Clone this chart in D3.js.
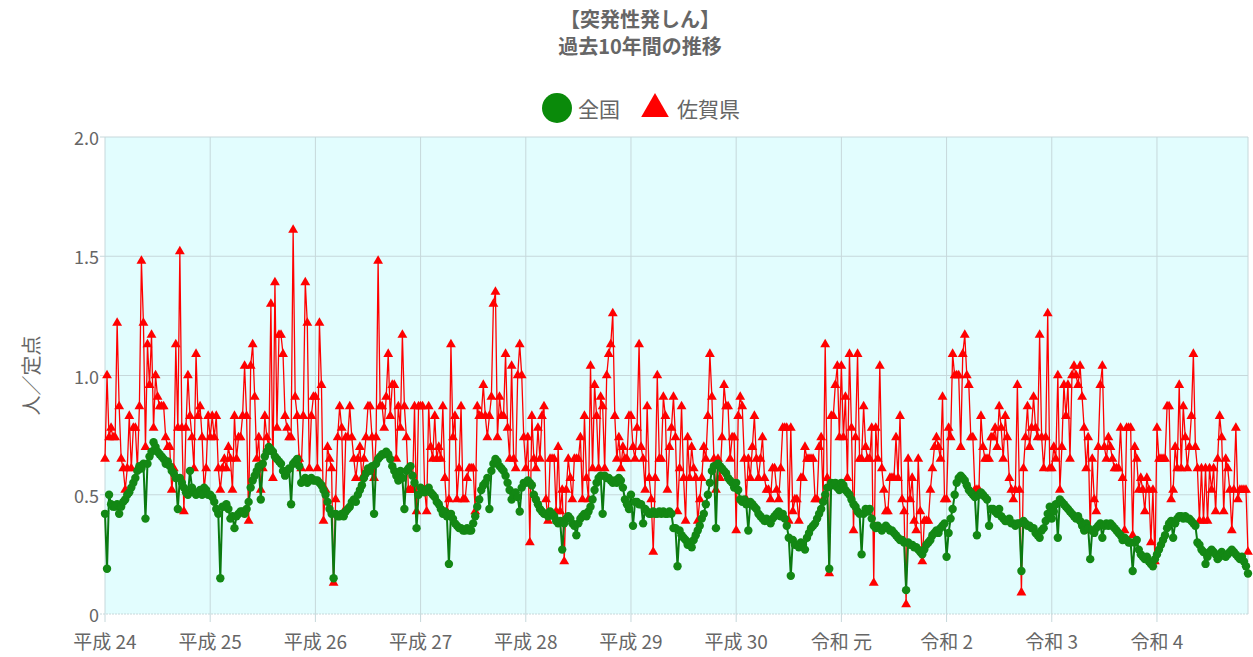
<!DOCTYPE html>
<html>
<head>
<meta charset="utf-8">
<script src="https://cdn.jsdelivr.net/npm/d3@7"></script>
<style>
  body { margin: 0; background: #fff; }
  svg { display: block; font-family: "Noto Sans CJK JP", "Noto Sans", sans-serif; }
</style>
</head>
<body>
<svg id="chart"></svg>
<script>
var width = 1253, height = 657;

// tick labels (first week of each year)
var yearLabels = ["平成 24", "平成 25", "平成 26", "平成 27", "平成 28", "平成 29", "平成 30", "令和 元", "令和 2", "令和 3", "令和 4"];
var yTicks = [0, 0.5, 1.0, 1.5, 2.0];

// 全国 (weekly, per year)
var zenkokuH24 = [0.42,0.19,0.50,0.46,0.45,0.45,0.46,0.42,0.45,0.47,0.48,0.50,0.51,0.53,0.55,0.57,0.60,0.62,0.61,0.63,0.40,0.63,0.66,0.68,0.72,0.70,0.68,0.67,0.66,0.65,0.63,0.64,0.62,0.60,0.59,0.57,0.44,0.57,0.55,0.53,0.51,0.50,0.60,0.53,0.51,0.50,0.51,0.52,0.50,0.53,0.52,0.50];
var zenkokuH25 = [0.50,0.49,0.47,0.44,0.42,0.15,0.45,0.45,0.46,0.44,0.40,0.41,0.36,0.41,0.42,0.43,0.43,0.42,0.44,0.47,0.53,0.56,0.58,0.60,0.62,0.48,0.63,0.66,0.68,0.70,0.69,0.68,0.66,0.65,0.64,0.63,0.60,0.58,0.60,0.61,0.46,0.63,0.64,0.65,0.62,0.55,0.56,0.57,0.55,0.56,0.57,0.56];
var zenkokuH26 = [0.56,0.56,0.55,0.54,0.52,0.50,0.47,0.44,0.42,0.15,0.42,0.41,0.41,0.42,0.41,0.43,0.44,0.45,0.47,0.48,0.47,0.50,0.52,0.54,0.57,0.59,0.61,0.60,0.62,0.42,0.63,0.65,0.66,0.67,0.67,0.68,0.67,0.65,0.62,0.60,0.58,0.56,0.60,0.57,0.44,0.60,0.61,0.62,0.58,0.55,0.36,0.50];
var zenkokuH27 = [0.53,0.52,0.51,0.52,0.53,0.51,0.50,0.49,0.47,0.46,0.44,0.42,0.43,0.41,0.21,0.42,0.40,0.38,0.37,0.36,0.36,0.35,0.35,0.36,0.35,0.35,0.38,0.41,0.45,0.48,0.52,0.54,0.55,0.57,0.44,0.60,0.63,0.65,0.64,0.62,0.61,0.60,0.58,0.55,0.52,0.48,0.50,0.51,0.49,0.43,0.53,0.55];
var zenkokuH28 = [0.55,0.56,0.55,0.54,0.50,0.48,0.46,0.44,0.43,0.42,0.42,0.41,0.43,0.42,0.41,0.39,0.38,0.39,0.27,0.38,0.40,0.41,0.40,0.38,0.37,0.33,0.38,0.40,0.41,0.42,0.41,0.43,0.45,0.48,0.52,0.55,0.57,0.58,0.42,0.58,0.57,0.57,0.56,0.55,0.56,0.55,0.57,0.56,0.53,0.48,0.46,0.44];
var zenkokuH29 = [0.50,0.37,0.47,0.47,0.46,0.46,0.38,0.44,0.43,0.42,0.42,0.43,0.42,0.42,0.43,0.42,0.43,0.42,0.42,0.43,0.42,0.36,0.36,0.20,0.35,0.33,0.32,0.31,0.29,0.30,0.28,0.31,0.33,0.35,0.37,0.40,0.42,0.46,0.50,0.55,0.60,0.62,0.36,0.63,0.62,0.61,0.60,0.59,0.57,0.56,0.55,0.53];
var zenkokuH30 = [0.55,0.52,0.48,0.47,0.48,0.46,0.35,0.47,0.46,0.45,0.44,0.42,0.41,0.40,0.39,0.40,0.39,0.38,0.40,0.41,0.42,0.43,0.41,0.42,0.40,0.37,0.32,0.16,0.31,0.29,0.29,0.28,0.30,0.29,0.27,0.32,0.34,0.36,0.37,0.38,0.40,0.42,0.44,0.47,0.50,0.53,0.19,0.55,0.54,0.55,0.53,0.52];
var zenkokuR1 = [0.55,0.54,0.52,0.51,0.50,0.48,0.46,0.45,0.43,0.42,0.25,0.42,0.44,0.43,0.44,0.40,0.37,0.36,0.37,0.36,0.35,0.36,0.37,0.36,0.35,0.35,0.34,0.33,0.32,0.31,0.31,0.30,0.10,0.30,0.29,0.29,0.28,0.28,0.27,0.26,0.25,0.27,0.29,0.30,0.31,0.33,0.34,0.35,0.34,0.36,0.37,0.38];
var zenkokuR2 = [0.24,0.34,0.40,0.44,0.50,0.55,0.57,0.58,0.57,0.56,0.54,0.52,0.51,0.50,0.49,0.33,0.50,0.51,0.50,0.49,0.48,0.37,0.44,0.44,0.43,0.42,0.44,0.41,0.40,0.39,0.39,0.40,0.38,0.38,0.37,0.38,0.38,0.18,0.39,0.38,0.37,0.37,0.36,0.36,0.34,0.33,0.32,0.35,0.36,0.39,0.42,0.45];
var zenkokuR3 = [0.40,0.43,0.46,0.32,0.48,0.47,0.46,0.45,0.44,0.43,0.42,0.41,0.40,0.41,0.39,0.37,0.35,0.38,0.36,0.23,0.35,0.34,0.36,0.37,0.38,0.32,0.37,0.38,0.37,0.38,0.37,0.36,0.35,0.34,0.33,0.31,0.32,0.31,0.30,0.30,0.18,0.30,0.31,0.27,0.25,0.24,0.23,0.24,0.22,0.21,0.20,0.23];
var zenkokuR4 = [0.25,0.27,0.29,0.31,0.33,0.36,0.38,0.39,0.32,0.38,0.40,0.41,0.41,0.40,0.41,0.40,0.40,0.39,0.38,0.37,0.30,0.29,0.27,0.26,0.21,0.24,0.26,0.27,0.26,0.25,0.23,0.24,0.26,0.25,0.24,0.25,0.26,0.27,0.26,0.25,0.24,0.23,0.24,0.22,0.20,0.17];

// 佐賀県 (weekly, per year)
var sagaH24 = [0.65,1.00,0.74,0.78,0.74,0.74,1.22,0.87,0.65,0.61,0.52,0.61,0.83,0.61,0.78,0.78,0.61,0.87,1.48,1.22,0.70,1.13,0.96,1.17,0.78,1.00,0.91,0.87,0.87,0.87,0.74,0.70,0.70,0.52,0.61,1.13,0.78,1.52,0.78,0.43,0.78,1.00,0.83,0.74,0.61,1.09,0.83,0.87,0.74,0.52,0.61,0.83];
var sagaH25 = [0.74,0.83,0.74,0.83,0.61,0.52,0.61,0.65,0.61,0.70,0.65,0.52,0.83,0.65,0.74,0.74,0.83,1.04,0.83,0.39,1.04,1.13,0.91,0.65,0.74,0.52,0.61,0.83,0.74,0.70,1.30,0.57,1.39,0.78,1.17,1.17,1.09,0.83,0.78,0.74,0.74,1.61,0.91,0.83,0.65,0.61,0.83,1.39,1.22,0.61,0.83,0.91];
var sagaH26 = [0.91,0.61,1.22,0.96,0.39,0.52,0.70,0.65,0.61,0.13,0.48,0.74,0.87,0.78,0.43,0.74,0.74,0.87,0.74,0.65,0.57,0.65,0.70,0.57,0.65,0.74,0.87,0.87,0.74,0.57,0.74,1.48,0.87,0.87,0.78,0.91,1.09,0.83,0.96,0.96,0.65,0.87,0.78,1.17,0.87,0.74,0.52,0.52,0.52,0.87,0.43,0.87];
var sagaH27 = [0.87,0.87,0.52,0.43,0.87,0.70,0.65,0.83,0.65,0.70,0.65,0.87,0.57,0.43,0.48,1.13,0.74,0.83,0.48,0.61,0.87,0.48,0.48,0.57,0.61,0.61,0.61,0.43,0.87,0.83,0.83,0.96,0.83,0.74,0.83,0.91,1.30,1.35,0.74,0.91,0.83,0.83,1.09,0.78,0.65,1.04,0.65,0.61,1.00,1.13,1.00,0.74];
var sagaH28 = [0.61,0.74,0.30,0.83,0.65,0.61,0.78,0.65,0.83,0.87,0.48,0.39,0.65,0.65,0.65,0.43,0.70,0.43,0.52,0.22,0.52,0.65,0.57,0.48,0.65,0.65,0.65,0.74,0.48,0.83,0.57,0.48,1.04,0.61,0.96,0.83,0.61,0.91,0.87,0.61,1.00,1.09,1.13,1.26,0.83,0.65,0.74,0.61,0.70,0.65,0.65,0.83];
var sagaH29 = [0.83,0.70,0.65,0.78,1.13,0.70,0.65,0.52,0.87,0.57,0.48,0.26,0.57,1.00,0.65,0.65,0.91,0.83,0.52,0.70,0.78,0.91,0.74,0.43,0.61,0.87,0.57,0.39,0.74,0.57,0.70,0.61,0.57,0.39,0.48,0.57,0.70,0.65,0.83,1.09,0.91,0.65,0.52,0.65,0.57,0.74,0.96,0.87,0.87,0.65,0.74,0.74];
var sagaH30 = [0.35,0.83,0.91,0.87,0.65,0.48,0.65,0.57,0.70,0.83,0.65,0.57,0.65,0.74,0.57,0.52,0.52,0.48,0.61,0.61,0.52,0.48,0.61,0.78,0.78,0.78,0.39,0.78,0.43,0.48,0.48,0.39,0.57,0.57,0.70,0.65,0.65,0.65,0.65,0.48,0.48,0.70,0.74,0.48,1.13,0.57,0.17,0.83,0.83,0.96,1.04,0.74];
var sagaR1 = [1.04,0.74,0.91,0.57,1.09,0.78,0.35,0.74,1.09,0.65,0.65,0.87,0.70,0.65,0.65,0.78,0.13,0.78,0.65,1.04,0.61,0.52,0.43,0.43,0.57,0.57,0.57,0.74,0.57,0.83,0.48,0.43,0.04,0.65,0.48,0.57,0.39,0.35,0.65,0.43,0.22,0.39,0.39,0.39,0.52,0.61,0.70,0.74,0.70,0.65,0.91,0.48];
var sagaR2 = [0.48,0.78,0.74,1.09,1.00,1.00,1.00,0.70,1.09,1.17,1.00,0.96,0.74,0.74,0.52,0.52,0.52,0.83,0.70,0.65,0.65,0.65,0.74,0.74,0.78,0.70,0.87,0.78,0.65,0.83,0.74,0.57,0.52,0.48,0.52,0.96,0.52,0.09,0.61,0.74,0.87,0.70,0.78,0.91,0.78,0.74,1.17,0.74,0.61,0.74,1.26,0.61];
var sagaR3 = [0.61,0.70,0.65,1.00,0.52,0.70,0.96,0.83,0.96,0.65,1.00,1.04,1.00,0.96,1.04,0.91,0.78,0.61,0.74,0.35,0.65,0.48,0.43,0.70,0.96,1.04,0.70,0.65,0.74,0.70,0.65,0.61,0.61,0.61,0.78,0.57,0.35,0.78,0.78,0.78,0.33,0.70,0.65,0.52,0.57,0.52,0.43,0.57,0.52,0.30,0.52,0.22];
var sagaR4 = [0.78,0.65,0.65,0.65,0.65,0.87,0.87,0.48,0.52,0.70,0.61,0.96,0.61,0.87,0.74,0.61,0.70,0.83,1.09,0.70,0.61,0.39,0.61,0.39,0.61,0.39,0.61,0.52,0.61,0.43,0.65,0.83,0.74,0.43,0.65,0.61,0.52,0.35,0.52,0.78,0.48,0.52,0.52,0.52,0.52,0.26];

var zenkokuYears = [zenkokuH24, zenkokuH25, zenkokuH26, zenkokuH27, zenkokuH28, zenkokuH29, zenkokuH30, zenkokuR1, zenkokuR2, zenkokuR3, zenkokuR4];
var sagaYears = [sagaH24, sagaH25, sagaH26, sagaH27, sagaH28, sagaH29, sagaH30, sagaR1, sagaR2, sagaR3, sagaR4];

// flatten into one weekly series, remember where each year starts
var zenkoku = [], saga = [], yearStart = [];
zenkokuYears.forEach(function(arr, k) {
    yearStart.push(zenkoku.length);
    zenkoku = zenkoku.concat(arr);
    saga = saga.concat(sagaYears[k]);
});

var plot = {left: 105, right: 1248, top: 137, bottom: 614};

var x = d3.scaleLinear().domain([0, zenkoku.length - 1]).range([plot.left, plot.right]);
var y = d3.scaleLinear().domain([0, 2]).range([plot.bottom, plot.top]);

var svg = d3.select("#chart").attr("width", width).attr("height", height);

svg.append("rect").attr("width", width).attr("height", height).attr("fill", "#fff");

// plot background
svg.append("rect")
    .attr("x", plot.left).attr("y", plot.top)
    .attr("width", plot.right - plot.left).attr("height", plot.bottom - plot.top)
    .attr("fill", "#e2fdfe");

var gridColor = "#c6d8db";

// horizontal grid + y ticks
svg.append("g").selectAll("line").data(yTicks).join("line")
    .attr("x1", plot.left - 5).attr("x2", plot.right)
    .attr("y1", function(d) { return y(d); }).attr("y2", function(d) { return y(d); })
    .attr("stroke", gridColor).attr("stroke-width", 1)
    .attr("stroke-dasharray", function(d) { return d === 0 ? "2,1" : null; });

// vertical grid at year starts
svg.append("g").selectAll("line").data(yearStart).join("line")
    .attr("x1", function(d) { return x(d); }).attr("x2", function(d) { return x(d); })
    .attr("y1", plot.top).attr("y2", plot.bottom + 8)
    .attr("stroke", gridColor).attr("stroke-width", 1);

// right edge
svg.append("line")
    .attr("x1", plot.right).attr("x2", plot.right)
    .attr("y1", plot.top).attr("y2", plot.bottom)
    .attr("stroke", gridColor);

svg.append("g").selectAll("text").data(yTicks).join("text")
    .attr("x", plot.left - 6).attr("y", function(d) { return y(d); })
    .attr("text-anchor", "end").attr("dominant-baseline", "central")
    .attr("font-size", 18).attr("fill", "#666")
    .text(function(d) { return d === 0 ? "0" : d.toFixed(1); });

svg.append("g").selectAll("text").data(yearStart).join("text")
    .attr("x", function(d) { return x(d); }).attr("y", 640)
    .attr("text-anchor", "middle").attr("dominant-baseline", "central")
    .attr("font-size", 19).attr("fill", "#666")
    .text(function(d, i) { return yearLabels[i]; });

svg.append("text")
    .attr("transform", "translate(30," + y(1) + ") rotate(-90)")
    .attr("text-anchor", "middle").attr("dominant-baseline", "central")
    .attr("font-size", 20).attr("fill", "#666")
    .text("人／定点");

// 佐賀県 series (drawn first, under 全国)
var line = d3.line().x(function(d, i) { return x(i); }).y(function(d) { return y(d); });

svg.append("path").datum(saga)
    .attr("d", line).attr("fill", "none")
    .attr("stroke", "#f00").attr("stroke-width", 1.3);

var tri = d3.symbol().type(d3.symbolTriangle).size(42);
svg.append("g").selectAll("path").data(saga).join("path")
    .attr("d", tri)
    .attr("transform", function(d, i) { return "translate(" + x(i) + "," + y(d) + ")"; })
    .attr("fill", "#f00");

// 全国 series
svg.append("path").datum(zenkoku)
    .attr("d", line).attr("fill", "none")
    .attr("stroke", "#0b7a10").attr("stroke-width", 2);

svg.append("g").selectAll("circle").data(zenkoku).join("circle")
    .attr("cx", function(d, i) { return x(i); })
    .attr("cy", function(d) { return y(d); })
    .attr("r", 4.2)
    .attr("fill", "#138814");

// title
svg.append("text").attr("x", 640).attr("y", 18)
    .attr("text-anchor", "middle").attr("dominant-baseline", "central")
    .attr("font-size", 20).attr("font-weight", "bold").attr("fill", "#666")
    .text("【突発性発しん】");
svg.append("text").attr("x", 640).attr("y", 45)
    .attr("text-anchor", "middle").attr("dominant-baseline", "central")
    .attr("font-size", 20).attr("font-weight", "bold").attr("fill", "#666")
    .text("過去10年間の推移");

// legend
var legend = svg.append("g");
legend.append("circle").attr("cx", 557).attr("cy", 108).attr("r", 15).attr("fill", "#0a8a0a");
legend.append("text").attr("x", 578).attr("y", 108)
    .attr("dominant-baseline", "central").attr("font-size", 21).attr("fill", "#666").text("全国");
legend.append("path")
    .attr("d", d3.symbol().type(d3.symbolTriangle).size(330))
    .attr("transform", "translate(655,109)")
    .attr("fill", "#f00");
legend.append("text").attr("x", 677).attr("y", 108)
    .attr("dominant-baseline", "central").attr("font-size", 21).attr("fill", "#666").text("佐賀県");
</script>
</body>
</html>
